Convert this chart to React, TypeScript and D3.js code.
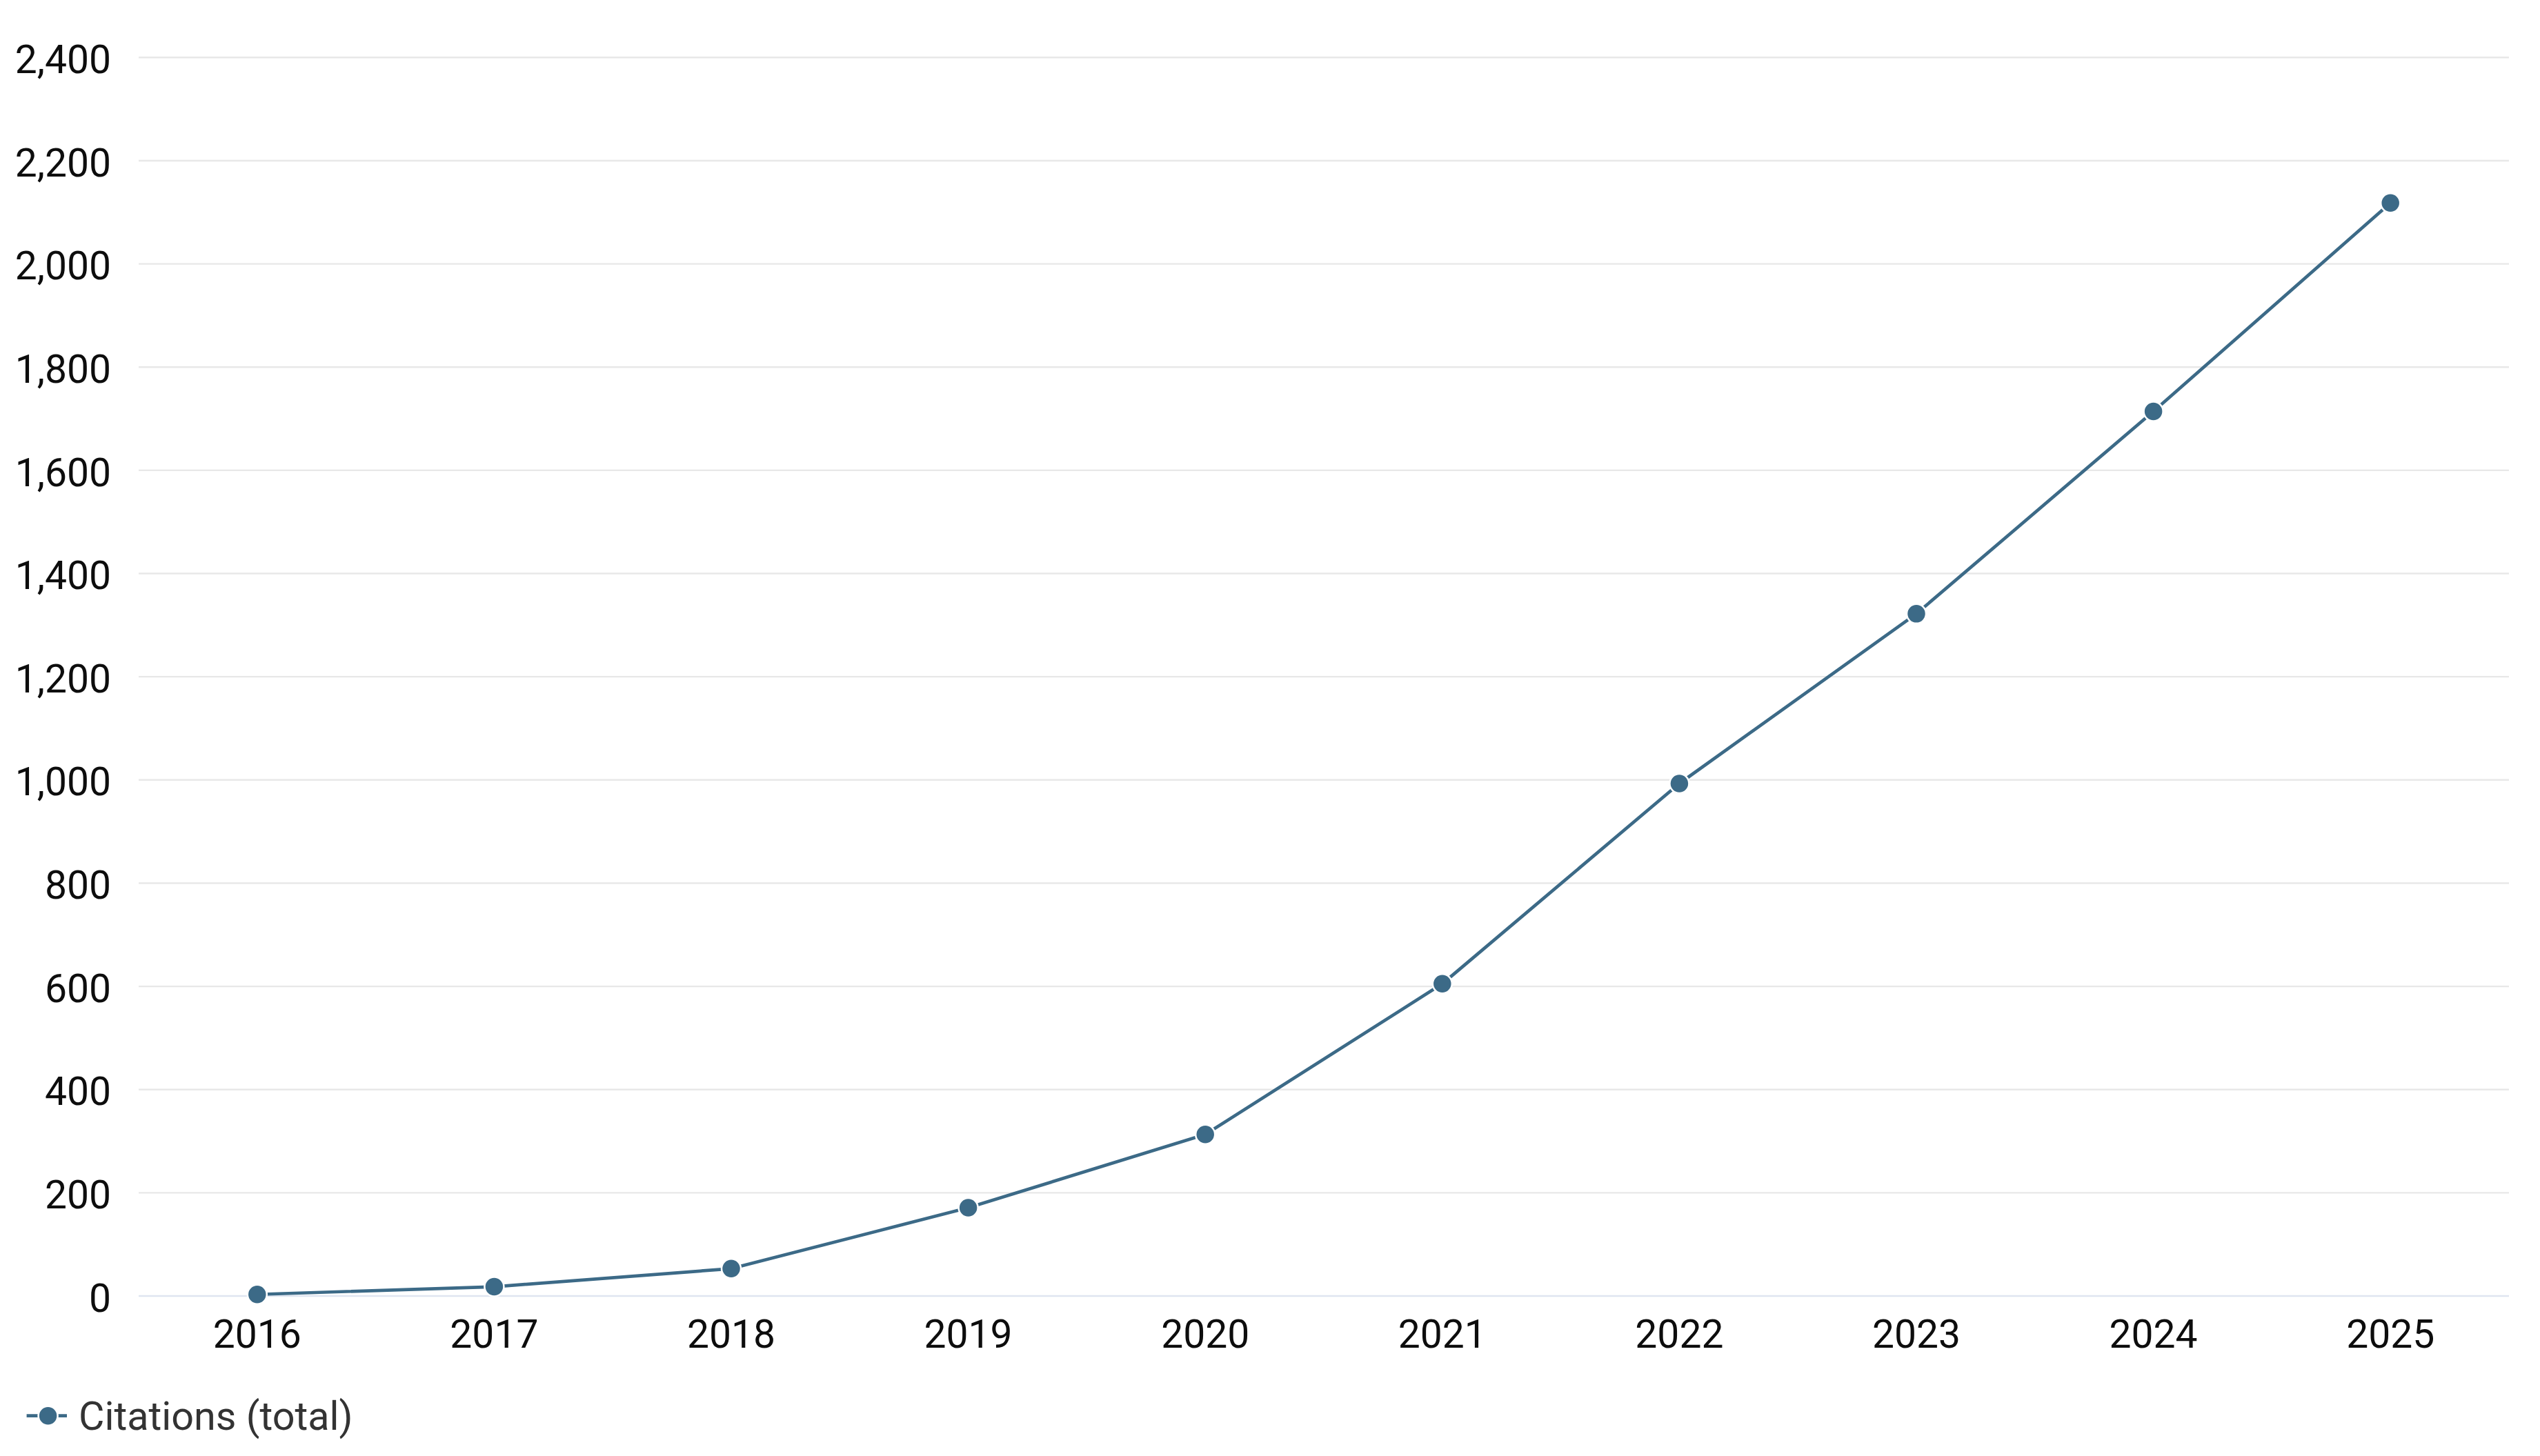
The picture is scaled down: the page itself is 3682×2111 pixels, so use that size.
import React from "react";
import * as d3 from "d3";

const years = ["2016", "2017", "2018", "2019", "2020", "2021", "2022", "2023", "2024", "2025"];
const citations = [3, 18, 53, 171, 313, 605, 993, 1322, 1714, 2118];
const yTicks = [0, 200, 400, 600, 800, 1000, 1200, 1400, 1600, 1800, 2000, 2200, 2400];
const seriesName = "Citations (total)";

const W = 3682;
const H = 2111;
const LEFT = 201;
const RIGHT = 3637;
const TOP = 83.3;
const BOTTOM = 1879;
const COLOR = "#3c6a87";
const FONT = "Roboto, 'Noto Sans', sans-serif";
const FS = 57;

export default function App() {
  const x = d3.scalePoint<string>().domain(years).range([LEFT, RIGHT]).padding(0.5);
  const y = d3.scaleLinear().domain([0, 2400]).range([BOTTOM, TOP]);
  const fmt = d3.format(",");
  const line = d3
    .line<number>()
    .x((_, i) => x(years[i]) as number)
    .y((d) => y(d));

  return (
    <svg
      width={W}
      height={H}
      viewBox={`0 0 ${W} ${H}`}
      style={{ position: "absolute", left: 0, top: 0, background: "#fff" }}
    >
      <rect x={0} y={0} width={W} height={H} fill="#fff" />
      {yTicks.map((t) => (
        <g key={t}>
          <line
            x1={LEFT}
            x2={RIGHT}
            y1={y(t)}
            y2={y(t)}
            stroke={t === 0 ? "#dfe5f0" : "#e8e8e8"}
            strokeWidth={2.4}
          />
          <text
            x={161}
            y={y(t) + 22.7}
            textAnchor="end"
            fontFamily={FONT}
            fontSize={FS}
            fill="#0d0d0d"
          >
            {fmt(t)}
          </text>
        </g>
      ))}
      {years.map((yr) => (
        <text
          key={yr}
          x={x(yr) as number}
          y={1954}
          textAnchor="middle"
          fontFamily={FONT}
          fontSize={FS}
          fill="#0d0d0d"
        >
          {yr}
        </text>
      ))}
      <path d={line(citations) || ""} fill="none" stroke={COLOR} strokeWidth={4.7} strokeLinejoin="round" />
      {citations.map((v, i) => (
        <circle
          key={years[i]}
          cx={x(years[i]) as number}
          cy={y(v)}
          r={14}
          fill={COLOR}
          stroke="#fff"
          strokeWidth={2.5}
        />
      ))}
      <g>
        <line x1={38.6} x2={97} y1={2052.7} y2={2052.7} stroke={COLOR} strokeWidth={4.7} />
        <circle cx={69.6} cy={2052.7} r={14} fill={COLOR} stroke="#fff" strokeWidth={2.5} />
        <text x={114} y={2073.3} fontFamily={FONT} fontSize={57.5} fill="#333">
          {seriesName}
        </text>
      </g>
    </svg>
  );
}
